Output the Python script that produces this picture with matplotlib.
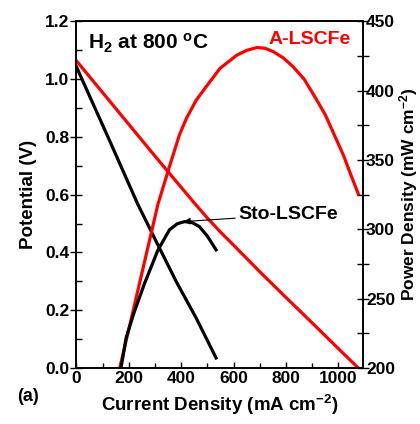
import matplotlib

matplotlib.use("Agg")
import matplotlib.pyplot as plt  # noqa: E402
from matplotlib.ticker import FormatStrFormatter, MultipleLocator  # noqa: E402

plt.rcParams["font.family"] = "Liberation Sans"
plt.rcParams["font.weight"] = "bold"
plt.rcParams["axes.labelweight"] = "bold"
plt.rcParams["mathtext.fontset"] = "custom"
plt.rcParams["mathtext.rm"] = "Liberation Sans:bold"
plt.rcParams["mathtext.bf"] = "Liberation Sans:bold"
plt.rcParams["mathtext.default"] = "rm"

# A-LSCFe cell
a_iv_j = [0, 150, 300, 400, 450, 500, 548, 600, 700, 800, 900, 1000, 1076]
a_iv_v = [1.063, 0.898, 0.733, 0.625, 0.571, 0.519, 0.472, 0.425, 0.333, 0.244, 0.156, 0.067, 0.0]
a_p_j = [164, 200, 250, 311, 349, 393, 420, 457, 500, 548, 612, 650, 689, 720, 752,
         790, 828, 870, 918, 950, 994, 1020, 1045, 1076]
a_p = [199, 228, 268.5, 318, 341.5, 368, 380, 393, 404, 416, 425.5, 429, 431, 430.5, 428,
       423.5, 417, 408, 393, 382.5, 364, 353, 340.5, 325.5]

# Sto-LSCFe cell
s_iv_j = [0, 126, 234, 311, 381, 457, 533]
s_iv_v = [1.042, 0.788, 0.567, 0.426, 0.299, 0.173, 0.035]
s_p_j = [170, 190, 220, 260, 311, 355, 385, 412, 440, 469, 500, 533]
s_p = [200, 222, 240, 261, 285, 299.6, 304, 305.5, 305, 302, 295, 285.2]

RED = "#ff0000"
lw = 2.3

fig = plt.figure(figsize=(4.2, 4.24), dpi=100)
ax = fig.add_axes([0.182, 0.132, 0.683, 0.818])
ax2 = ax.twinx()

ax.plot(a_iv_j, a_iv_v, color=RED, lw=lw)
ax.plot(s_iv_j, s_iv_v, color="black", lw=lw)
ax2.plot(a_p_j, a_p, color=RED, lw=lw)
ax2.plot(s_p_j, s_p, color="black", lw=lw)

ax.set_xlim(0, 1095)
ax.set_ylim(0, 1.2)
ax2.set_ylim(200, 450)

ax.xaxis.set_major_locator(MultipleLocator(200))
ax.xaxis.set_minor_locator(MultipleLocator(100))
ax.yaxis.set_major_locator(MultipleLocator(0.2))
ax.yaxis.set_minor_locator(MultipleLocator(0.1))
ax2.yaxis.set_major_locator(MultipleLocator(50))
ax2.yaxis.set_minor_locator(MultipleLocator(25))
ax.yaxis.set_major_formatter(FormatStrFormatter("%.1f"))

ax.tick_params(axis="x", which="major", direction="in", length=4.5, width=1, labelsize=12.5, pad=2)
ax.tick_params(axis="x", which="minor", direction="in", length=3.5, width=1)
ax.tick_params(axis="y", which="major", direction="inout", length=8, width=1, labelsize=12.5, pad=1)
ax.tick_params(axis="y", which="minor", direction="in", length=4.5, width=1)
ax2.tick_params(axis="y", which="both", direction="inout", length=9, width=1, labelsize=12.5, pad=-2.5)

for a in (ax, ax2):
    for s in a.spines.values():
        s.set_linewidth(1.2)

ax.set_xlabel(r"Current Density (mA cm$^{-2}$)", fontsize=13.5, labelpad=5)
ax.set_ylabel("Potential (V)", fontsize=13.5, labelpad=6)
ax2.set_ylabel(r"Power Density (mW cm$^{-2}$)", fontsize=12.5, va="center", ha="center")
ax2.yaxis.set_label_coords(1.158, 0.5)

ax.text(0.04, 0.935, r"H$_2$ at 800 $^o$C", transform=ax.transAxes, fontsize=15,
        ha="left", va="center")
ax2.text(0.955, 0.948, "A-LSCFe", transform=ax2.transAxes, fontsize=14, color=RED,
         ha="right", va="center")
ax2.annotate("Sto-LSCFe", xy=(403, 305.5), xytext=(617, 310.5), fontsize=14,
             ha="left", va="center",
             arrowprops=dict(arrowstyle="-|>", color="black", lw=0.8,
                             mutation_scale=10, shrinkA=0, shrinkB=1))
fig.text(0.04, 0.065, "(a)", fontsize=13, ha="left", va="center")

fig.savefig("out.png", dpi=100)
